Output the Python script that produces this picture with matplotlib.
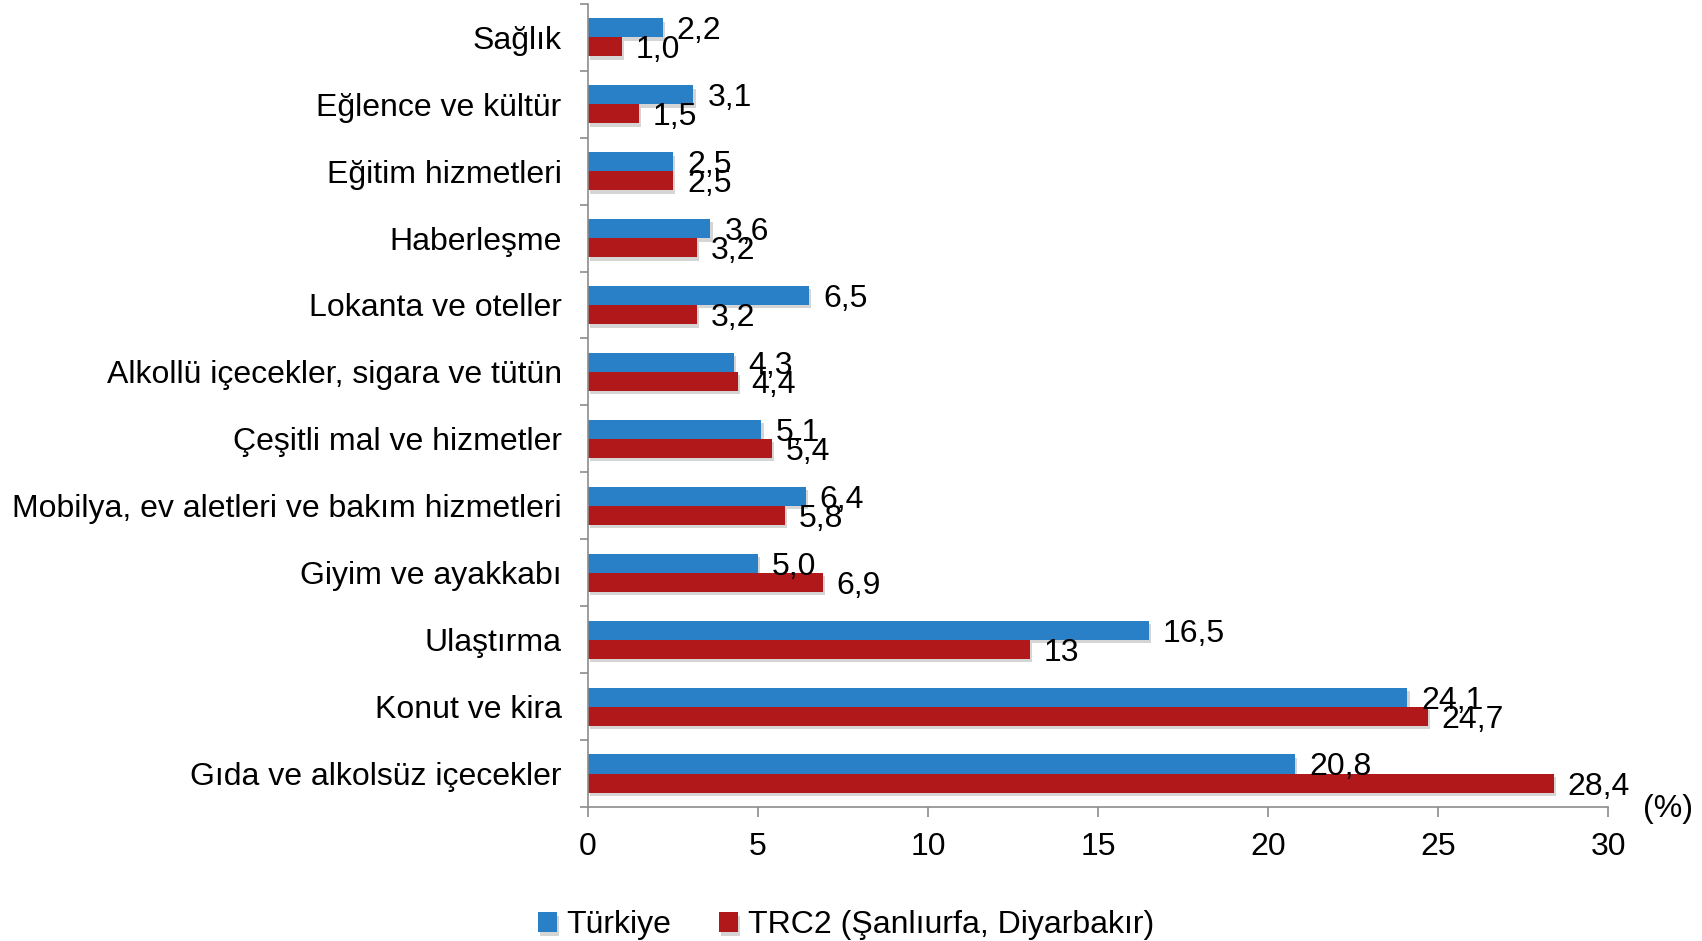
import matplotlib.pyplot as plt
import matplotlib.patheffects as pe
from matplotlib.ticker import MultipleLocator, FixedLocator
import numpy as np

plt.rcParams['font.family'] = ['Liberation Sans', 'DejaVu Sans']

# Data (top to bottom)
kategoriler = ['Sağlık', 'Eğlence ve kültür', 'Eğitim hizmetleri', 'Haberleşme',
               'Lokanta ve oteller', 'Alkollü içecekler, sigara ve tütün',
               'Çeşitli mal ve hizmetler', 'Mobilya, ev aletleri ve bakım hizmetleri',
               'Giyim ve ayakkabı', 'Ulaştırma', 'Konut ve kira',
               'Gıda ve alkolsüz içecekler']
turkiye = [2.2, 3.1, 2.5, 3.6, 6.5, 4.3, 5.1, 6.4, 5.0, 16.5, 24.1, 20.8]
trc2 = [1.0, 1.5, 2.5, 3.2, 3.2, 4.4, 5.4, 5.8, 6.9, 13.0, 24.7, 28.4]
turkiye_etiket = ['2,2', '3,1', '2,5', '3,6', '6,5', '4,3', '5,1', '6,4', '5,0', '16,5', '24,1', '20,8']
trc2_etiket = ['1,0', '1,5', '2,5', '3,2', '3,2', '4,4', '5,4', '5,8', '6,9', '13', '24,7', '28,4']

mavi = '#2A80C6'
kirmizi = '#B0181A'
gri = '#8C8C8C'
fs = 23

fig = plt.figure(figsize=(17.02, 9.41), dpi=100)
ax = fig.add_axes([0.3455, 0.1424, 0.5993, 0.8536])

y = np.arange(len(kategoriler))
h = 0.285
golge = [pe.SimplePatchShadow(offset=(1.5, -2.5), shadow_rgbFace='#777777', alpha=0.3), pe.Normal()]
b1 = ax.barh(y - h / 2, turkiye, height=h, color=mavi, label='Türkiye', path_effects=golge)
b2 = ax.barh(y + h / 2, trc2, height=h, color=kirmizi, label='TRC2 (Şanlıurfa, Diyarbakır)', path_effects=golge)

for yy, v, s in zip(y, turkiye, turkiye_etiket):
    ax.annotate(s, (v, yy - h / 2), xytext=(10, -2.5), textcoords='offset points',
                va='center', ha='left', fontsize=fs)
for yy, v, s in zip(y, trc2, trc2_etiket):
    ax.annotate(s, (v, yy + h / 2), xytext=(10, -2.5), textcoords='offset points',
                va='center', ha='left', fontsize=fs)

ax.set_xlim(0, 30)
ax.set_ylim(len(kategoriler) - 0.5, -0.5)
ax.xaxis.set_major_locator(MultipleLocator(5))
ax.set_yticks(y)
ax.set_yticklabels(kategoriler, fontsize=fs)
ax.yaxis.set_minor_locator(FixedLocator(np.arange(-0.5, len(kategoriler), 1)))
ax.tick_params(axis='y', which='major', length=0, pad=19)
ax.tick_params(axis='y', which='minor', length=6, color=gri, width=1.2)
ax.tick_params(axis='x', length=7, color=gri, width=1.2, labelsize=fs, pad=11)

for s in ['top', 'right']:
    ax.spines[s].set_visible(False)
for s in ['left', 'bottom']:
    ax.spines[s].set_color(gri)
    ax.spines[s].set_linewidth(1.2)

fig.text(0.9655, 0.14, '(%)', fontsize=fs, ha='left', va='center')

fig.legend(handles=[b1, b2], loc='lower center', bbox_to_anchor=(0.497, -0.03), ncol=2,
           frameon=False, fontsize=fs, handlelength=0.6, handleheight=0.6,
           handletextpad=0.3, columnspacing=1.5)

plt.savefig('out.png', dpi=100)
